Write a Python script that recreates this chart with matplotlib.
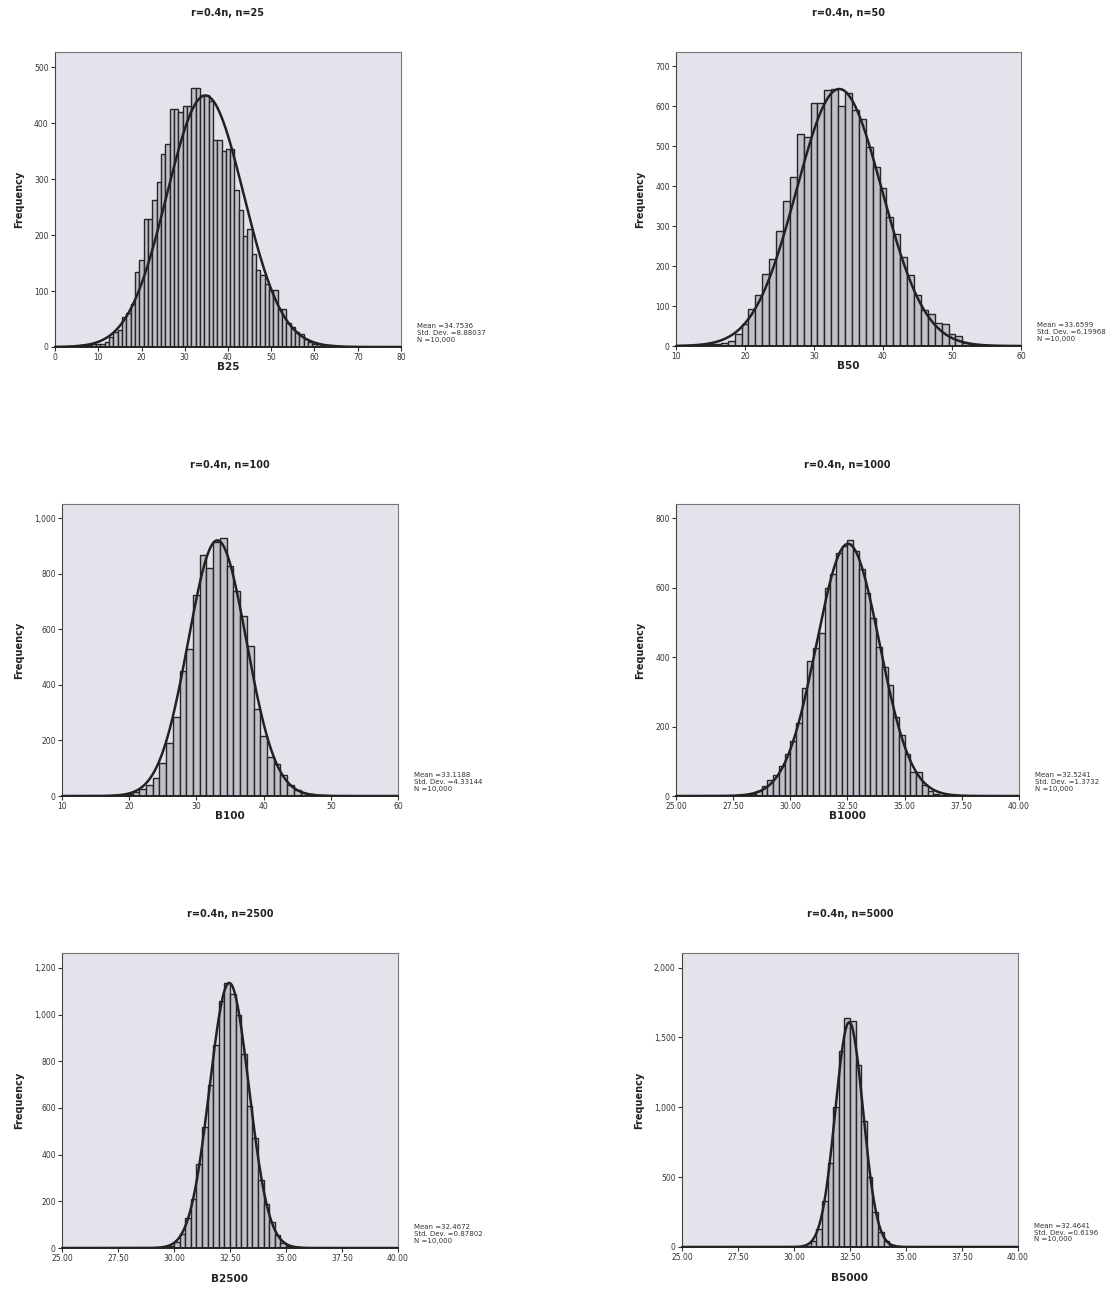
import numpy as np
import matplotlib
matplotlib.use("Agg")
from matplotlib import pyplot as plt

# ---- data ----
titles = ["r=0.4n, n=25", "r=0.4n, n=50", "r=0.4n, n=100",
          "r=0.4n, n=1000", "r=0.4n, n=2500", "r=0.4n, n=5000"]
xlabels = ["B25", "B50", "B100", "B1000", "B2500", "B5000"]
means = [34.7536, 33.6599, 33.1188, 32.5241, 32.4672, 32.4641]
sds = [8.88037, 6.19968, 4.33144, 1.3732, 0.87802, 0.6196]
mean_txt = ["34.7536", "33.6599", "33.1188", "32.5241", "32.4672", "32.4641"]
sd_txt = ["8.88037", "6.19968", "4.33144", "1.3732", "0.87802", "0.6196"]
n_total = 10000

# bin widths
widths = [1, 1, 1, 0.25, 0.25, 0.25]

# first bin centre + counts
b25_start = 5
b25 = [2, 3, 4, 4, 5, 5, 6, 9, 18, 27, 30, 54, 60, 77, 134, 155, 229, 229, 263,
       295, 345, 363, 425, 425, 420, 431, 431, 463, 463, 451, 451, 440, 369, 369,
       351, 354, 354, 280, 244, 199, 211, 167, 137, 128, 113, 101, 101, 68, 68,
       42, 36, 27, 24, 15, 9, 6, 5, 4, 3, 3, 2, 1]

b50_start = 14
b50 = [2, 4, 6, 8, 12, 30, 56, 93, 127, 181, 218, 289, 364, 423, 530, 523, 608,
       608, 640, 644, 602, 633, 590, 569, 498, 448, 395, 323, 281, 223, 177, 127,
       89, 81, 58, 56, 29, 25, 8, 5, 3, 2, 1]

b100_start = 18
b100 = [2, 4, 8, 14, 25, 40, 65, 120, 190, 285, 450, 530, 725, 870, 820, 915, 930,
        830, 740, 650, 540, 315, 215, 140, 115, 75, 40, 20, 10, 6, 4, 2]

b1000_start = 28.125
b1000 = [3, 6, 15, 30, 45, 60, 85, 120, 158, 210, 310, 390, 425, 470, 600, 640,
         700, 720, 738, 705, 655, 585, 512, 430, 372, 320, 228, 175, 120, 70, 68,
         32, 14, 6, 3, 2]

b2500_start = 29.875
b2500 = [10, 25, 60, 130, 210, 360, 520, 700, 870, 1060, 1135, 1090, 1000, 830,
         610, 470, 290, 190, 110, 55, 22, 8, 3]

b5000_start = 30.625
b5000 = [10, 40, 130, 330, 600, 1000, 1400, 1640, 1620, 1300, 900, 500, 250, 110,
         40, 12, 4]

starts = [b25_start, b50_start, b100_start, b1000_start, b2500_start, b5000_start]
counts = [b25, b50, b100, b1000, b2500, b5000]

xlims = [(0, 80), (10, 60), (10, 60), (25, 40), (25, 40), (25, 40)]
xticks = [[0, 10, 20, 30, 40, 50, 60, 70, 80],
          [10, 20, 30, 40, 50, 60],
          [10, 20, 30, 40, 50, 60],
          [25, 27.5, 30, 32.5, 35, 37.5, 40],
          [25, 27.5, 30, 32.5, 35, 37.5, 40],
          [25, 27.5, 30, 32.5, 35, 37.5, 40]]
ylims = [527, 736, 1052, 841, 1264, 2105]
yticks = [[0, 100, 200, 300, 400, 500],
          [0, 100, 200, 300, 400, 500, 600, 700],
          [0, 200, 400, 600, 800, 1000],
          [0, 200, 400, 600, 800],
          [0, 200, 400, 600, 800, 1000, 1200],
          [0, 500, 1000, 1500, 2000]]

# axes boxes in pixels: left, right, top, bottom
boxes = [(55, 401, 52, 347), (676, 1021, 52, 346),
         (62, 398, 504, 796), (676, 1019, 504, 796),
         (62, 398, 953, 1248), (682, 1018, 953, 1247)]

W, H = 1118, 1289
fig = plt.figure(figsize=(W / 100, H / 100), dpi=100)
fig.patch.set_facecolor("white")

for i in range(6):
    l, r, t, b = boxes[i]
    ax = fig.add_axes([l / W, 1 - b / H, (r - l) / W, (b - t) / H])
    ax.set_facecolor("#e3e3eb")

    w = widths[i]
    centers = starts[i] + w * np.arange(len(counts[i]))
    ax.bar(centers, counts[i], width=w, color="#c0c0c8", edgecolor="#262626",
           linewidth=1.0, zorder=2)

    # fitted normal curve
    xs = np.linspace(xlims[i][0], xlims[i][1], 400)
    ys = n_total * w / (sds[i] * np.sqrt(2 * np.pi)) * np.exp(-0.5 * ((xs - means[i]) / sds[i]) ** 2)
    ax.plot(xs, ys, color="#222222", linewidth=1.8, zorder=3)

    ax.set_xlim(*xlims[i])
    ax.set_ylim(0, ylims[i])
    ax.set_xticks(xticks[i])
    if i >= 3:
        ax.set_xticklabels(["%.2f" % v for v in xticks[i]])
    ax.set_yticks(yticks[i])
    ax.set_yticklabels(["{:,}".format(v) for v in yticks[i]])
    ax.tick_params(labelsize=5.5, length=3, width=0.8, colors="#333333", pad=1.5)
    for s in ax.spines.values():
        s.set_color("#777777")
        s.set_linewidth(0.8)
    ax.spines["bottom"].set_color("#222222")
    ax.spines["bottom"].set_linewidth(1.4)
    ax.spines["left"].set_color("#444444")

    ax.set_title(titles[i], fontsize=7, fontweight="bold", color="#222222", pad=26)
    ax.set_xlabel(xlabels[i], fontsize=7.5, fontweight="bold", color="#222222",
                  labelpad=8 if i >= 4 else 0)
    ax.set_ylabel("Frequency", fontsize=7, fontweight="bold", color="#222222", labelpad=7)

    fig.text((r + 16) / W, 1 - (b - 24) / H,
             "Mean =" + mean_txt[i] + "\nStd. Dev. =" + sd_txt[i] + "\nN =10,000",
             fontsize=5, color="#333333", va="top", ha="left", linespacing=1.15)

fig.savefig("out.png", dpi=100, facecolor="white")
